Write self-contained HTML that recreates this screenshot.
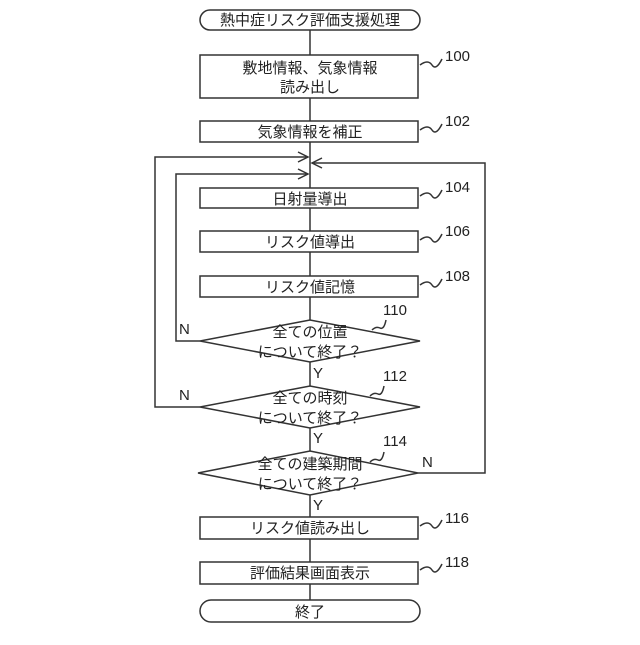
<!DOCTYPE html>
<html><head><meta charset="utf-8"><style>
body{margin:0;background:#fff}
text{font-family:"Liberation Sans","Noto Sans CJK JP",sans-serif;font-size:15px;fill:#222}
.n{font-size:16px}
</style></head><body>
<svg width="640" height="640" viewBox="0 0 640 640" xmlns="http://www.w3.org/2000/svg">
<g fill="none" stroke="#333" stroke-width="1.5">
<line x1="310" y1="30" x2="310" y2="600"/>
<rect x="200" y="10" width="220" height="20" rx="10" fill="#fff"/>
<rect x="200" y="55" width="218" height="43" fill="#fff"/>
<rect x="200" y="121" width="218" height="21" fill="#fff"/>
<rect x="200" y="188" width="218" height="20" fill="#fff"/>
<rect x="200" y="231" width="218" height="21" fill="#fff"/>
<rect x="200" y="276" width="218" height="21" fill="#fff"/>
<polygon points="200,341 310,320 420,341 310,362" fill="#fff"/>
<polygon points="200,407 310,386 420,407 310,428" fill="#fff"/>
<polygon points="198,473 310,451 418,473 310,495" fill="#fff"/>
<rect x="200" y="517" width="218" height="22" fill="#fff"/>
<rect x="200" y="562" width="218" height="22" fill="#fff"/>
<rect x="200" y="600" width="220" height="22" rx="11" fill="#fff"/>
<polyline points="200,341 176,341 176,174 308,174"/>
<polyline points="298,169 308,174 298,179"/>
<polyline points="200,407 155,407 155,157 308,157"/>
<polyline points="298,152 308,157 298,162"/>
<polyline points="418,473 485,473 485,163 312,163"/>
<polyline points="322,158 312,163 322,168"/>
<path d="M420,65 q8,-6 12,0 t10,-6"/>
<path d="M420,130 q8,-6 12,0 t10,-6"/>
<path d="M420,196 q8,-6 12,0 t10,-6"/>
<path d="M420,240 q8,-6 12,0 t10,-6"/>
<path d="M420,285 q8,-6 12,0 t10,-6"/>
<path d="M372,330 q4,-4 8,-2 t6,-8"/>
<path d="M370,396 q4,-4 8,-2 t6,-8"/>
<path d="M370,462 q4,-4 8,-2 t6,-8"/>
<path d="M420,526 q8,-6 12,0 t10,-6"/>
<path d="M420,570 q8,-6 12,0 t10,-6"/>
</g>
<g text-anchor="middle">
<text x="310" y="25">熱中症リスク評価支援処理</text>
<text x="310" y="73">敷地情報、気象情報</text>
<text x="310" y="92">読み出し</text>
<text x="310" y="137">気象情報を補正</text>
<text x="310" y="204">日射量導出</text>
<text x="310" y="247">リスク値導出</text>
<text x="310" y="292">リスク値記憶</text>
<text x="310" y="337">全ての位置</text>
<text x="310" y="357">について終了？</text>
<text x="310" y="403">全ての時刻</text>
<text x="310" y="423">について終了？</text>
<text x="310" y="469">全ての建築期間</text>
<text x="310" y="489">について終了？</text>
<text x="310" y="533">リスク値読み出し</text>
<text x="310" y="578">評価結果画面表示</text>
<text x="310" y="617">終了</text>
</g>
<g class="n">
<text x="445" y="61">100</text><text x="445" y="126">102</text><text x="445" y="192">104</text>
<text x="445" y="236">106</text><text x="445" y="281">108</text><text x="383" y="315">110</text>
<text x="383" y="381">112</text><text x="383" y="446">114</text><text x="445" y="523">116</text>
<text x="445" y="567">118</text>
<text x="179" y="334">N</text><text x="179" y="400">N</text><text x="422" y="467">N</text>
<text x="313" y="378">Y</text><text x="313" y="443">Y</text><text x="313" y="510">Y</text>
</g>
</svg>
</body></html>
